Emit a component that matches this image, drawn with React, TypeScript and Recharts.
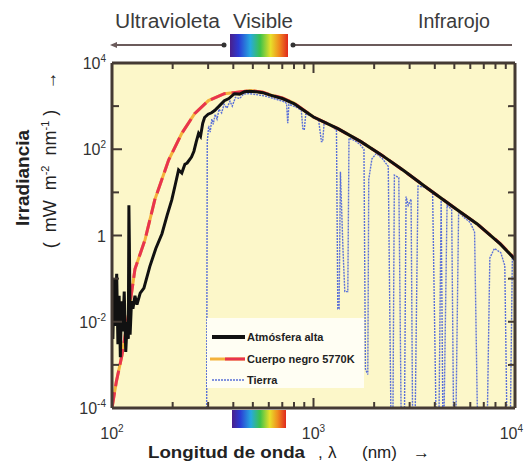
import React from 'react';
import { ComposedChart, Line, XAxis, YAxis, CartesianGrid, Legend } from 'recharts';

// Cuerpo negro 5770K
const bbWavelength = [100, 105, 112, 120, 130, 146, 163, 191, 222, 257, 301, 361, 439, 491, 560, 617, 700, 800, 897, 1000, 1321, 1718, 2154, 2800, 3674, 4940, 6490, 8440, 10000];
const bbIrradiance = [1e-4, 4e-4, 1.65e-3, 0.012, 0.166, 0.81, 6.7, 56, 234, 670, 1340, 1940, 2150, 2290, 2100, 1800, 1540, 1180, 800, 560, 300, 150, 76, 32, 12.5, 4.6, 1.85, 0.65, 0.29];

// Atmósfera alta
const topWavelength = [100, 101, 102.5, 104, 105.5, 107, 108.5, 110, 111.5, 113, 115, 117, 119, 120.5, 121.3, 122, 123, 125, 127, 130, 133, 138, 144, 154, 165, 177, 188, 198, 206, 214, 222, 230, 236, 248, 255, 262, 269, 275, 282, 288, 300, 312, 323, 340, 361, 380, 405, 430, 454, 480, 520, 560, 617, 700, 800, 897, 1000, 1321, 1718, 2154, 2800, 3674, 4940, 6490, 8440, 10000];
const topIrradiance = [0.05, 0.004, 0.1, 0.008, 0.13, 0.003, 0.04, 0.0015, 0.03, 0.006, 0.05, 0.002, 0.01, 0.004, 5, 0.6, 0.005, 0.03, 0.02, 0.04, 0.025, 0.046, 0.06, 0.19, 0.5, 1.1, 3, 6.7, 15, 33, 28, 45, 48, 66, 90, 150, 234, 200, 400, 545, 650, 700, 790, 1000, 1340, 1500, 1940, 1900, 2150, 2200, 2150, 2050, 1780, 1500, 1150, 790, 560, 300, 150, 76, 32, 12.5, 4.6, 1.85, 0.64, 0.28];

// Tierra
const earthWavelength = [295, 297, 302, 307, 313, 318, 325, 332, 340, 350, 360, 372, 385, 395, 410, 430, 450, 480, 520, 580, 650, 720, 735, 745, 755, 820, 870, 885, 900, 915, 980, 1060, 1095, 1110, 1130, 1220, 1300, 1320, 1340, 1360, 1400, 1430, 1480, 1500, 1600, 1700, 1780, 1810, 1860, 1880, 1950, 2050, 2200, 2350, 2420, 2480, 2520, 2650, 2720, 2830, 2880, 2950, 3050, 3100, 3200, 3300, 3600, 3900, 4050, 4200, 4300, 4380, 4450, 4600, 4850, 4950, 5100, 5250, 5600, 6000, 6300, 6500, 7300, 7500, 7900, 8500, 8900, 9100, 9500, 9700, 10000];
const earthIrradiance = [1e-4, 150, 350, 250, 500, 380, 650, 500, 850, 700, 1100, 900, 1300, 1000, 1600, 1500, 1900, 1950, 1850, 1700, 1450, 1250, 1150, 400, 1100, 950, 800, 300, 280, 650, 580, 480, 150, 150, 420, 350, 280, 0.02, 0.02, 30, 0.5, 0.05, 0.05, 180, 160, 130, 100, 8e-4, 6e-4, 20, 60, 80, 60, 40, 1e-4, 1e-4, 25, 22, 1e-4, 1e-4, 8, 5, 7, 1e-4, 1e-4, 14, 13, 10, 1e-4, 1e-4, 7, 1e-4, 1e-4, 5, 4, 1e-4, 1e-4, 3.5, 2.6, 2.0, 1.2, 1e-4, 1e-4, 0.3, 0.5, 0.4, 0.2, 1e-4, 1e-4, 0.3, 0.25];

const xTicks = [100, 200, 300, 400, 500, 600, 700, 800, 900, 1000, 2000, 3000, 4000, 5000, 6000, 7000, 8000, 9000, 10000];
const yTicks = [1e-4, 1e-3, 1e-2, 1e-1, 1, 10, 100, 1000, 10000];

const toPoints = (xs: number[], ys: number[]) => xs.map((x, i) => ({ x, v: ys[i] }));
const bbData = toPoints(bbWavelength, bbIrradiance);
const topData = toPoints(topWavelength, topIrradiance);
const earthData = toPoints(earthWavelength, earthIrradiance);

const frame = '#443a33';
const font = '"Liberation Sans", Arial, sans-serif';
const labelColor = '#333';

const exp10 = (v: number) => Math.round(Math.log10(v));

const BottomTick = (props: any) => {
  const { x, y, payload } = props;
  const e = Math.log10(payload.value);
  const major = Math.abs(e - Math.round(e)) < 1e-6;
  const last = Math.round(e) === 4;
  return (
    <g>
      <line x1={x} y1={y} x2={x} y2={y - (major ? 10 : 6)} stroke={frame} strokeWidth={2} />
      {major && (
        <text x={last ? 523 : x} y={y + 31} textAnchor={last ? 'end' : 'middle'} fontFamily={font} fontSize={16} fill={labelColor}>
          10<tspan dy={-7} fontSize={10}>{Math.round(e)}</tspan>
        </text>
      )}
    </g>
  );
};

const TopTick = (props: any) => {
  const { x, y, payload } = props;
  const e = Math.log10(payload.value);
  const major = Math.abs(e - Math.round(e)) < 1e-6;
  return <line x1={x} y1={y} x2={x} y2={y + (major ? 10 : 6)} stroke={frame} strokeWidth={2} />;
};

const LeftTick = (props: any) => {
  const { x, y, payload } = props;
  const e = exp10(payload.value);
  const labeled = e % 2 === 0;
  return (
    <g>
      <line x1={x} y1={y} x2={x + (labeled ? 10 : 7)} y2={y} stroke={frame} strokeWidth={2} />
      {labeled && (
        <text x={x - 6} y={y + 6} textAnchor="end" fontFamily={font} fontSize={16} fill={labelColor}>
          {e === 0 ? '1' : <>10<tspan dy={-7} fontSize={10}>{e}</tspan></>}
        </text>
      )}
    </g>
  );
};

const RightTick = (props: any) => {
  const { x, y } = props;
  return <line x1={x} y1={y} x2={x - 7} y2={y} stroke={frame} strokeWidth={2} />;
};

const legendItems = [
  { name: 'Atmósfera alta', kind: 'top' },
  { name: 'Cuerpo negro 5770K', kind: 'bb' },
  { name: 'Tierra', kind: 'earth' },
];

const LegendBox = () => (
  <div style={{ width: 157, height: 70, background: '#fffef3', position: 'relative' }}>
    {legendItems.map((it, i) => (
      <div key={it.name} style={{ position: 'absolute', left: 0, top: 9 + i * 21.5, height: 20, display: 'flex', alignItems: 'center' }}>
        <svg width={40} height={20}>
          {it.kind === 'top' && <line x1={5} y1={10} x2={38} y2={10} stroke="#111" strokeWidth={4} />}
          {it.kind === 'bb' && (
            <>
              <line x1={3} y1={10} x2={38} y2={10} stroke="#f4b23a" strokeWidth={3} />
              <line x1={18} y1={10} x2={38} y2={10} stroke="#e8344e" strokeWidth={3} />
            </>
          )}
          {it.kind === 'earth' && <line x1={5} y1={10} x2={38} y2={10} stroke="#5a70d8" strokeWidth={1.5} strokeDasharray="2 1" />}
        </svg>
        <span style={{ fontFamily: font, fontSize: 11, fontWeight: 'bold', color: '#222', whiteSpace: 'nowrap' }}>{it.name}</span>
      </div>
    ))}
  </div>
);

const Spectrum = ({ x, y, w, h }: { x: number; y: number; w: number; h: number }) => (
  <rect x={x} y={y} width={w} height={h} fill="url(#spec)" />
);

export default function App() {
  return (
    <div style={{ position: 'absolute', left: 0, top: 0, width: 525, height: 464, background: '#fff' }}>
      <ComposedChart width={525} height={464} data={topData} margin={{ top: 62, right: 9, bottom: 55, left: 111 }}>
        <CartesianGrid fill="#fcf7c9" horizontal={false} vertical={false} />
        <XAxis dataKey="x" type="number" scale="log" domain={[100, 10000]} allowDataOverflow ticks={xTicks} interval={0}
          height={1} tickSize={0} tickMargin={0} tickLine={false} axisLine={{ stroke: frame, strokeWidth: 3 }} tick={<BottomTick />} />
        <XAxis xAxisId="top" orientation="top" dataKey="x" type="number" scale="log" domain={[100, 10000]} allowDataOverflow ticks={xTicks} interval={0}
          height={1} tickSize={0} tickMargin={0} tickLine={false} axisLine={{ stroke: frame, strokeWidth: 3 }} tick={<TopTick />} />
        <YAxis type="number" scale="log" domain={[1e-4, 1e4]} allowDataOverflow ticks={yTicks} interval={0}
          width={1} tickSize={0} tickMargin={0} tickLine={false} axisLine={{ stroke: frame, strokeWidth: 3 }} tick={<LeftTick />} />
        <YAxis yAxisId="right" orientation="right" type="number" scale="log" domain={[1e-4, 1e4]} allowDataOverflow ticks={yTicks} interval={0}
          width={1} tickSize={0} tickMargin={0} tickLine={false} axisLine={{ stroke: frame, strokeWidth: 3 }} tick={<RightTick />} />
        <Line data={earthData} dataKey="v" type="linear" stroke="#5a70d8" strokeWidth={1.4} strokeDasharray="2 1" dot={false} isAnimationActive={false} />
        <Line data={bbData} dataKey="v" type="linear" stroke="#f4b23a" strokeWidth={3} dot={false} isAnimationActive={false} />
        <Line data={bbData} dataKey="v" type="linear" stroke="#e8344e" strokeWidth={3} strokeDasharray="16 6" dot={false} isAnimationActive={false} />
        <Line data={topData} dataKey="v" type="linear" stroke="#111" strokeWidth={3} dot={false} isAnimationActive={false} />
        <Legend layout="vertical" align="center" verticalAlign="middle" content={<LegendBox />}
          wrapperStyle={{ left: 207, top: 318, width: 157, height: 70 }} />
      </ComposedChart>
      <svg width={525} height={464} style={{ position: 'absolute', left: 0, top: 0, pointerEvents: 'none' }}>
        <defs>
          <linearGradient id="spec" x1="0" x2="1" y1="0" y2="0">
            <stop offset="0" stopColor="#4a1f8a" />
            <stop offset="0.15" stopColor="#2b3ad4" />
            <stop offset="0.35" stopColor="#27a9e0" />
            <stop offset="0.52" stopColor="#3cc24a" />
            <stop offset="0.7" stopColor="#e8e02a" />
            <stop offset="0.85" stopColor="#f08a1e" />
            <stop offset="1" stopColor="#e0281e" />
          </linearGradient>
        </defs>
        <text x={115} y={28} fontFamily={font} fontSize={20} fill="#3b3b3b" textLength={105} lengthAdjust="spacingAndGlyphs">Ultravioleta</text>
        <text x={233} y={28} fontFamily={font} fontSize={20} fill="#3b3b3b" textLength={60} lengthAdjust="spacingAndGlyphs">Visible</text>
        <text x={418} y={28} fontFamily={font} fontSize={20} fill="#3b3b3b" textLength={72} lengthAdjust="spacingAndGlyphs">Infrarojo</text>
        <line x1={112} y1={45} x2={224} y2={45} stroke="#6b5b5b" strokeWidth={2} />
        <path d="M110,45 L117,42 L117,48 Z" fill="#6b5b5b" />
        <circle cx={224} cy={45} r={2.5} fill="#333" />
        <line x1={292} y1={45} x2={512} y2={45} stroke="#6b5b5b" strokeWidth={2} />
        <circle cx={293} cy={45} r={2.5} fill="#333" />
        <Spectrum x={230} y={34} w={58} h={23} />
        <Spectrum x={232} y={410} w={54} h={18} />
        <g transform="translate(29,178) rotate(-90)">
          <text x={0} y={0} textAnchor="middle" fontFamily={font} fontSize={19} fontWeight="bold" fill="#222">Irradiancia</text>
        </g>
        <g transform="translate(56,160) rotate(-90)">
          <text x={0} y={0} textAnchor="middle" fontFamily={font} fontSize={18} fill="#222" style={{ whiteSpace: 'pre' }}>
            (  mW  m<tspan dy={-7} fontSize={11}>-2</tspan><tspan dy={7}>  nm</tspan><tspan dy={-7} fontSize={11}>-1</tspan><tspan dy={7}> )    →</tspan>
          </text>
        </g>
        <text x={148} y={458} fontFamily={font} fontSize={17} fontWeight="bold" fill="#222" textLength={157} lengthAdjust="spacingAndGlyphs">Longitud de onda</text>
        <text x={318} y={458} fontFamily={font} fontSize={17} fill="#222">,</text>
        <text x={328} y={458} fontFamily={font} fontSize={17} fill="#222">λ</text>
        <text x={362} y={458} fontFamily={font} fontSize={17} fill="#222">(nm)</text>
        <text x={413} y={458} fontFamily={font} fontSize={17} fill="#222">→</text>
      </svg>
    </div>
  );
}
